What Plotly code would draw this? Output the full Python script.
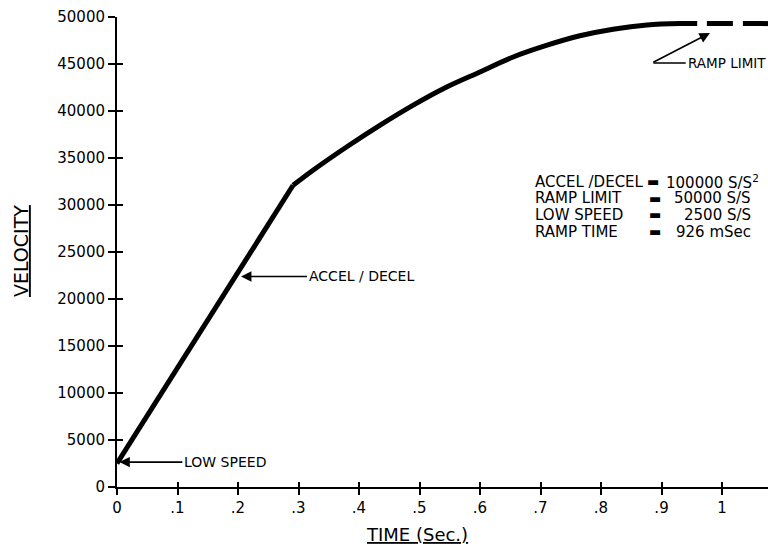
import plotly.graph_objects as go

# ---- data ----
# constant-acceleration part (LOW SPEED -> knee)
t_accel = [0, 0.291]
v_accel = [2500, 32100]
# decelerating-approach part (knee -> ramp limit)
t_curve = [0.291, 0.324, 0.380, 0.435, 0.489, 0.545, 0.600, 0.655, 0.711,
           0.765, 0.820, 0.876, 0.931, 0.959]
v_curve = [32100, 33700, 36200, 38500, 40600, 42550, 44150, 45750, 47000,
           48000, 48700, 49150, 49300, 49300]
# ramp limit continuation (dashed)
t_limit = [0.975, 1.076]
v_limit = [49300, 49300]

x_tickvals = [0, 0.1, 0.2, 0.3, 0.4, 0.5, 0.6, 0.7, 0.8, 0.9, 1.0]
x_ticktext = ["0", ".1", ".2", ".3", ".4", ".5", ".6", ".7", ".8", ".9", "1"]
y_tickvals = [0, 5000, 10000, 15000, 20000, 25000, 30000, 35000, 40000, 45000, 50000]
y_ticktext = [str(v) for v in y_tickvals]

legend_names = ["ACCEL /DECEL", "RAMP LIMIT", "LOW SPEED", "RAMP TIME"]
legend_values = ["100000 S/S<sup>2</sup>", "50000 S/S", "2500 S/S", "926 mSec"]
legend_rows_v = [32450, 30745, 28940, 27130]

FONT = "DejaVu Sans"
X_RANGE = [0, 1.076]
Y_RANGE = [0, 50000]

fig = go.Figure()
fig.add_trace(go.Scatter(x=t_accel, y=v_accel, mode="lines",
                         line=dict(color="black", width=5), hoverinfo="skip",
                         showlegend=False))
fig.add_trace(go.Scatter(x=t_curve, y=v_curve, mode="lines",
                         line=dict(color="black", width=5, shape="spline", smoothing=0.8),
                         hoverinfo="skip", showlegend=False))
fig.add_trace(go.Scatter(x=t_limit, y=v_limit, mode="lines",
                         line=dict(color="black", width=5, dash="26px,10px"),
                         hoverinfo="skip", showlegend=False))
# empty trace to activate the overlay axes (inside half of the tick crosses)
fig.add_trace(go.Scatter(x=[], y=[], xaxis="x2", yaxis="y2", showlegend=False))

tickfont = dict(family=FONT, size=15, color="black")
axis_common = dict(showgrid=False, zeroline=False, showline=True, linecolor="black",
                   linewidth=2, tickcolor="black", tickwidth=2, automargin=False)

fig.update_layout(
    width=768, height=550,
    margin=dict(l=117, r=0, t=17, b=63),
    paper_bgcolor="white", plot_bgcolor="white",
    hovermode=False,
    xaxis=dict(range=X_RANGE, tickvals=x_tickvals, ticktext=x_ticktext,
               ticks="outside", ticklen=6, tickfont=tickfont, **axis_common),
    yaxis=dict(range=Y_RANGE, tickvals=y_tickvals, ticktext=y_ticktext,
               ticks="outside", ticklen=7, tickfont=tickfont, **axis_common),
    xaxis2=dict(range=X_RANGE, tickvals=x_tickvals, overlaying="x", anchor="y2",
                ticks="inside", ticklen=5, showticklabels=False, **axis_common),
    yaxis2=dict(range=Y_RANGE, tickvals=y_tickvals, overlaying="y", anchor="x2",
                ticks="inside", ticklen=6, showticklabels=False, **axis_common),
)

ann_font = dict(family=FONT, size=15, color="black")
arrow_style = dict(showarrow=True, arrowhead=2, arrowsize=1.3, arrowwidth=1.6,
                   arrowcolor="black", axref="x", ayref="y", xref="x", yref="y",
                   standoff=0)

annotations = [
    dict(text="LOW SPEED", x=0.004, y=2650, ax=0.108, ay=2650, xanchor="left",
         font=dict(family=FONT, size=14, color="black"), **arrow_style),
    dict(text="ACCEL / DECEL", x=0.205, y=22400, ax=0.314, ay=22400, xanchor="left",
         font=dict(family=FONT, size=14, color="black"), **arrow_style),
    dict(text="RAMP LIMIT", x=0.940, y=45100, xref="x", yref="y", xanchor="left",
         showarrow=False, font=dict(family=FONT, size=13.5, color="black")),
    dict(text="", x=0.980, y=48300, ax=0.884, ay=45100, **arrow_style),
    dict(text="", x=0.940, y=45100, ax=0.884, ay=45100, showarrow=True, arrowhead=0,
         arrowwidth=1.6, arrowcolor="black", axref="x", ayref="y", xref="x",
         yref="y", standoff=0),
    dict(text="VELOCITY", x=-0.1475, y=0.502, xref="paper", yref="paper",
         xanchor="center", yanchor="middle", textangle=-90, showarrow=False,
         font=dict(family=FONT, size=19, color="black", lineposition="under")),
    dict(text="TIME (Sec.)", x=0.461, y=-0.102, xref="paper", yref="paper",
         xanchor="center", yanchor="middle", showarrow=False,
         font=dict(family=FONT, size=18, color="black", lineposition="under")),
]

for i, (name, val, vy) in enumerate(zip(legend_names, legend_values, legend_rows_v)):
    annotations.append(dict(text=name, x=0.688, y=vy, xref="x", yref="y",
                            xanchor="left", showarrow=False, font=ann_font))
    annotations.append(dict(text="\u25ac", x=0.874 if i == 0 else 0.878, y=vy,
                            xref="x", yref="y", xanchor="left", showarrow=False,
                            borderpad=0, font=dict(family=FONT, size=13, color="black")))
    annotations.append(dict(text=val, x=1.064 if i == 0 else 1.051, y=vy,
                            xref="x", yref="y", xanchor="right", showarrow=False,
                            font=ann_font))

fig.update_layout(annotations=annotations)
# remove the browser's default 8px body margin so the figure fills the window exactly
fig.write_html("out.html",
               config={"displayModeBar": False, "staticPlot": True},
               post_script="document.body.style.margin='0';document.body.style.overflow='hidden';")
